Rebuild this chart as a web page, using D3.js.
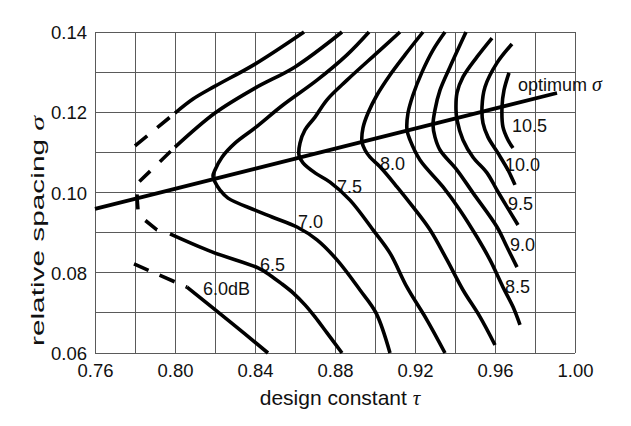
<!DOCTYPE html>
<html>
<head>
<meta charset="utf-8">
<script src="https://cdn.jsdelivr.net/npm/d3@7"></script>
<style>
  html, body { margin: 0; padding: 0; background: #fff; }
  svg { display: block; }
  text { font-family: "Liberation Sans", Arial, sans-serif; fill: #111; }
</style>
</head>
<body>
<svg id="chart" width="631" height="426"></svg>
<script>
// ---------- data ----------
const tauTicks = [0.76, 0.80, 0.84, 0.88, 0.92, 0.96, 1.00];
const sigmaTicks = [0.06, 0.08, 0.10, 0.12, 0.14];
const tauGrid = [0.76, 0.78, 0.80, 0.82, 0.84, 0.86, 0.88, 0.90, 0.92, 0.94, 0.96, 0.98, 1.00];
const sigmaGrid = [0.06, 0.07, 0.08, 0.09, 0.10, 0.11, 0.12, 0.13, 0.14];

const optimumLine = [[0.760, 0.0959], [0.991, 0.1248]];

const gain60Upper = [[0.8645,0.1400],[0.8400,0.1320],[0.8200,0.1265],[0.8090,0.1233],[0.8000,0.1198]];
const gain60UpperDash = [[0.8000,0.1198],[0.7800,0.1116]];
const gain60LowerDash = [[0.8060,0.0764],[0.7795,0.0822]];
const gain60Lower = [[0.8060,0.0764],[0.8265,0.0682],[0.8465,0.0600]];

const gain65Upper = [[0.8835,0.1400],[0.8600,0.1313],[0.8400,0.1260],[0.8200,0.1198],[0.8000,0.1113]];
const gain65Dash = [[0.8000,0.1113],[0.7815,0.1024],[0.7810,0.0989],[0.7815,0.0956],[0.7850,0.0931],[0.7910,0.0907],[0.7975,0.0897]];
const gain65Lower = [[0.7975,0.0897],[0.8185,0.0852],[0.8415,0.0812],[0.8475,0.0794],[0.8535,0.0772],[0.8590,0.0750],[0.8650,0.0720],[0.8700,0.0690],[0.8760,0.0650],[0.8835,0.0600]];

const gain70 = [[0.8970,0.1400],[0.8860,0.1343],[0.8710,0.1280],[0.8540,0.1218],[0.8400,0.1161],[0.8300,0.1123],[0.8235,0.1088],[0.8200,0.1056],[0.8190,0.1041],[0.8200,0.1026],[0.8225,0.1006],[0.8265,0.0986],[0.8400,0.0956],[0.8485,0.0939],[0.8610,0.0914],[0.8710,0.0882],[0.8810,0.0832],[0.8925,0.0757],[0.9005,0.0700],[0.9075,0.0600]];
const gain75 = [[0.9125,0.1400],[0.9010,0.1348],[0.8860,0.1280],[0.8760,0.1231],[0.8700,0.1188],[0.8650,0.1156],[0.8625,0.1123],[0.8620,0.1093],[0.8640,0.1074],[0.8700,0.1049],[0.8775,0.1026],[0.8875,0.0981],[0.8990,0.0907],[0.9075,0.0849],[0.9160,0.0764],[0.9260,0.0682],[0.9350,0.0600]];
const gain80 = [[0.9240,0.1400],[0.9150,0.1343],[0.9075,0.1293],[0.9010,0.1243],[0.8965,0.1198],[0.8940,0.1161],[0.8935,0.1126],[0.8950,0.1106],[0.8975,0.1088],[0.9025,0.1064],[0.9110,0.1014],[0.9190,0.0964],[0.9275,0.0907],[0.9360,0.0832],[0.9440,0.0757],[0.9525,0.0690],[0.9600,0.0620]];
const gain85 = [[0.9350,0.1400],[0.9290,0.1355],[0.9235,0.1300],[0.9190,0.1243],[0.9165,0.1198],[0.9160,0.1156],[0.9175,0.1131],[0.9225,0.1081],[0.9340,0.1014],[0.9425,0.0956],[0.9510,0.0889],[0.9575,0.0832],[0.9640,0.0764],[0.9690,0.0715],[0.9725,0.0670]];
const gain90 = [[0.9455,0.1400],[0.9375,0.1313],[0.9325,0.1255],[0.9300,0.1206],[0.9290,0.1168],[0.9300,0.1138],[0.9325,0.1106],[0.9410,0.1056],[0.9490,0.0999],[0.9610,0.0914],[0.9660,0.0864],[0.9710,0.0814]];
const gain95 = [[0.9585,0.1385],[0.9510,0.1338],[0.9440,0.1288],[0.9410,0.1248],[0.9405,0.1206],[0.9410,0.1181],[0.9440,0.1131],[0.9490,0.1088],[0.9560,0.1049],[0.9610,0.1006],[0.9660,0.0964],[0.9715,0.0919]];
const gain100 = [[0.9685,0.1370],[0.9610,0.1323],[0.9550,0.1263],[0.9535,0.1213],[0.9540,0.1173],[0.9565,0.1138],[0.9615,0.1098],[0.9665,0.1056],[0.9700,0.1019]];
const gain105 = [[0.9670,0.1298],[0.9645,0.1255],[0.9635,0.1213],[0.9640,0.1163],[0.9665,0.1131],[0.9690,0.1111]];

const labelText  = ["6.0dB", "6.5",  "7.0",  "7.5",  "8.0",  "8.5",  "9.0",  "9.5",  "10.0", "10.5"];
const labelTau   = [0.814,   0.8425, 0.8615, 0.881,  0.9025, 0.965,  0.9675, 0.9665, 0.965,  0.9685];
const labelSigma = [0.0745,  0.0804, 0.0912, 0.0999, 0.1056, 0.0750, 0.0854, 0.0956, 0.1054, 0.1151];
const optimumLabelPos = [0.9715, 0.1253];

// ---------- layout ----------
const svg = d3.select("#chart");
const x = d3.scaleLinear().domain([0.76, 1.00]).range([95, 575]);
const y = d3.scaleLinear().domain([0.06, 0.14]).range([353, 32]);

const gridColor = "#5a5a5a";
const g = svg.append("g");

// grid
g.selectAll("line.vg").data(tauGrid).join("line")
  .attr("x1", d => x(d)).attr("x2", d => x(d))
  .attr("y1", y(0.06)).attr("y2", y(0.14))
  .attr("stroke", gridColor).attr("stroke-width", 1).attr("shape-rendering", "crispEdges");
g.selectAll("line.hg").data(sigmaGrid).join("line")
  .attr("y1", d => y(d)).attr("y2", d => y(d))
  .attr("x1", x(0.76)).attr("x2", x(1.00))
  .attr("stroke", gridColor).attr("stroke-width", 1).attr("shape-rendering", "crispEdges");

// axes (labels only, via d3 axes)
const xAxis = d3.axisBottom(x).tickValues(tauTicks).tickFormat(d3.format(".2f")).tickSize(0).tickPadding(10);
const yAxis = d3.axisLeft(y).tickValues(sigmaTicks).tickFormat(d3.format(".2f")).tickSize(0).tickPadding(8);
const gx = svg.append("g").attr("transform", `translate(0,${y(0.06)})`).call(xAxis);
const gy = svg.append("g").attr("transform", `translate(${x(0.76)},0)`).call(yAxis);
[gx, gy].forEach(a => {
  a.select(".domain").remove();
  a.selectAll("text").attr("font-size", 18.5).attr("fill", "#111")
    .style("font-family", '"Liberation Sans", Arial, sans-serif');
});
gx.selectAll("text").attr("dy", null).attr("y", 24);
gy.selectAll("text").attr("dy", "0.36em");

// axis titles
const xt = svg.append("text").attr("x", 340).attr("y", 405).attr("text-anchor", "middle")
  .attr("font-size", 21);
xt.append("tspan").text("design constant ");
xt.append("tspan").text("τ").style("font-family", '"Liberation Serif", "Times New Roman", serif')
  .attr("font-style", "italic");

const yt = svg.append("text").attr("transform", "translate(44,231) rotate(-90)")
  .attr("text-anchor", "middle").attr("font-size", 18.5)
  .attr("textLength", 230).attr("lengthAdjust", "spacingAndGlyphs");
yt.append("tspan").text("relative spacing ");
yt.append("tspan").text("σ").style("font-family", '"Liberation Serif", "Times New Roman", serif')
  .attr("font-style", "italic");

// curve labels
g.selectAll("text.cl").data(labelText).join("text")
  .attr("x", (d, i) => x(labelTau[i])).attr("y", (d, i) => y(labelSigma[i]))
  .attr("font-size", 18).text(d => d);

const ol = g.append("text").attr("x", x(optimumLabelPos[0])).attr("y", y(optimumLabelPos[1]))
  .attr("font-size", 18);
ol.append("tspan").text("optimum ");
ol.append("tspan").text("σ").style("font-family", '"Liberation Serif", "Times New Roman", serif')
  .attr("font-style", "italic").attr("font-size", 20);

// lines
const line = d3.line().x(d => x(d[0])).y(d => y(d[1])).curve(d3.curveCatmullRom.alpha(0.5));
const straight = d3.line().x(d => x(d[0])).y(d => y(d[1]));
const lw = 3.6;

g.append("path").attr("d", straight(optimumLine)).attr("fill", "none")
  .attr("stroke", "#000").attr("stroke-width", 3.8);

const solids = [gain60Upper, gain60Lower, gain65Upper, gain65Lower, gain70, gain75, gain80, gain85, gain90, gain95, gain100, gain105];
g.selectAll("path.solid").data(solids).join("path")
  .attr("d", d => line(d)).attr("fill", "none")
  .attr("stroke", "#000").attr("stroke-width", lw).attr("stroke-linecap", "butt").attr("stroke-linejoin", "round");

const dashed = [
  {pts: gain60UpperDash, dash: "16,13", off: 22},
  {pts: gain60LowerDash, dash: "16.5,12", off: 15},
  {pts: gain65Dash, dash: "15,13.5", off: 22.5}
];
g.selectAll("path.dash").data(dashed).join("path")
  .attr("d", d => straight(d.pts)).attr("fill", "none")
  .attr("stroke", "#000").attr("stroke-width", lw)
  .attr("stroke-dasharray", d => d.dash).attr("stroke-dashoffset", d => d.off);
</script>
</body>
</html>
